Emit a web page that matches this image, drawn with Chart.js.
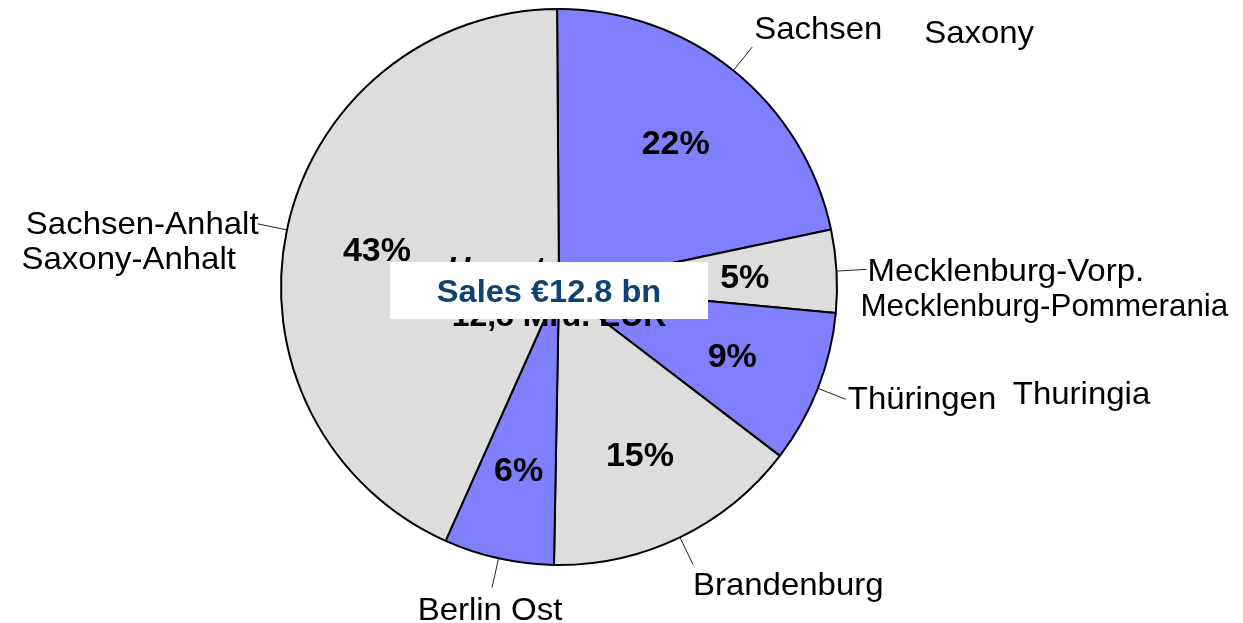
<!DOCTYPE html>
<html>
<head>
<meta charset="utf-8">
<style>
  body { margin: 0; background: #fff; }
  #wrap { width: 1243px; height: 623px; }
</style>
<script src="https://cdn.jsdelivr.net/npm/chart.js@4"></script>
</head>
<body>
<div id="wrap"><canvas id="chart" width="1243" height="623"></canvas></div>
<script>
const regions = ['Sachsen', 'Mecklenburg-Vorp.', 'Thüringen', 'Brandenburg', 'Berlin Ost', 'Sachsen-Anhalt'];
const regionsEn = ['Saxony', 'Mecklenburg-Pommerania', 'Thuringia', '', '', 'Saxony-Anhalt'];
const shares = [21.8, 4.8, 8.9, 14.9, 6.4, 43.2];
const shareLabels = ['22%', '5%', '9%', '15%', '6%', '43%'];
const sliceColors = ['#8080ff', '#dddddd', '#8080ff', '#dddddd', '#8080ff', '#dddddd'];
const centerTitle = 'Sales €12.8 bn';
const hiddenTitle = ['Umsatz', '12,8 Mrd. EUR'];

const FONT = '"Liberation Sans", Arial, sans-serif';

// stretched text, the original type is a bit wider than Arial
function txt(ctx, s, x, y, align, font, sx) {
  ctx.save();
  ctx.translate(x, y);
  ctx.scale(sx || 1.03, 1);
  ctx.font = font;
  ctx.textAlign = align;
  ctx.textBaseline = 'alphabetic';
  ctx.fillText(s, 0, 0);
  ctx.restore();
}

// where each outer label sits relative to the end of its leader line
const labelPos = [
  { dx: 2, dy: -8, align: 'left', en: [172, -4, 'left', 1.03] },
  { dx: 1, dy: 12, align: 'left', en: [-6, 47, 'left', 0.98] },
  { dx: 2, dy: 10, align: 'left', en: [167, 5, 'left', 1.03] },
  { dx: 0, dy: 31, align: 'left' },
  { dx: -2, dy: 32, align: 'center' },
  { dx: 1, dy: 10, align: 'right', en: [-236, 45, 'left', 1.03] }
];

const pieLabels = {
  id: 'pieLabels',
  afterDatasetsDraw(chart) {
    const ctx = chart.ctx;
    const arcs = chart.getDatasetMeta(0).data;
    const labelFont = '32px ' + FONT;

    arcs.forEach((arc, i) => {
      const mid = (arc.startAngle + arc.endAngle) / 2;
      const r = arc.outerRadius;
      const cos = Math.cos(mid), sin = Math.sin(mid);

      // percent inside
      ctx.fillStyle = '#000';
      txt(ctx, shareLabels[i], arc.x + cos * 186, arc.y + sin * 186 + 12, 'center', 'bold 33px ' + FONT, 1.03);

      // leader line
      const x1 = arc.x + cos * r, y1 = arc.y + sin * r;
      const x2 = arc.x + cos * (r + 30), y2 = arc.y + sin * (r + 30);
      ctx.save();
      ctx.strokeStyle = '#222';
      ctx.lineWidth = 1;
      ctx.beginPath();
      ctx.moveTo(x1, y1);
      ctx.lineTo(x2, y2);
      ctx.stroke();
      ctx.restore();

      const p = labelPos[i];
      txt(ctx, regions[i], x2 + p.dx, y2 + p.dy, p.align, labelFont);
      if (p.en && regionsEn[i]) {
        txt(ctx, regionsEn[i], x2 + p.en[0], y2 + p.en[1], p.en[2], labelFont, p.en[3]);
      }
    });

    // German title, mostly covered by the box
    const cx = arcs[0].x, cy = arcs[0].y;
    ctx.fillStyle = '#000';
    txt(ctx, hiddenTitle[0], 447, cy - 8, 'left', 'italic bold 31px ' + FONT);
    txt(ctx, hiddenTitle[1], cx, cy + 39, 'center', 'bold 31px ' + FONT);

    ctx.fillStyle = '#fff';
    ctx.fillRect(390, cy - 25, 318, 57);
    ctx.fillStyle = '#0e4174';
    txt(ctx, centerTitle, 549, cy + 15, 'center', 'bold 31px ' + FONT, 1.05);
  }
};

new Chart(document.getElementById('chart'), {
  type: 'pie',
  data: {
    labels: regions,
    datasets: [{
      data: shares,
      backgroundColor: sliceColors,
      borderColor: '#000',
      borderWidth: 2
    }]
  },
  options: {
    responsive: false,
    animation: false,
    rotation: -0.4,
    layout: { padding: { left: 0, right: 125, top: 8, bottom: 57 } },
    plugins: {
      legend: { display: false },
      tooltip: { enabled: false }
    }
  },
  plugins: [pieLabels]
});
</script>
</body>
</html>
